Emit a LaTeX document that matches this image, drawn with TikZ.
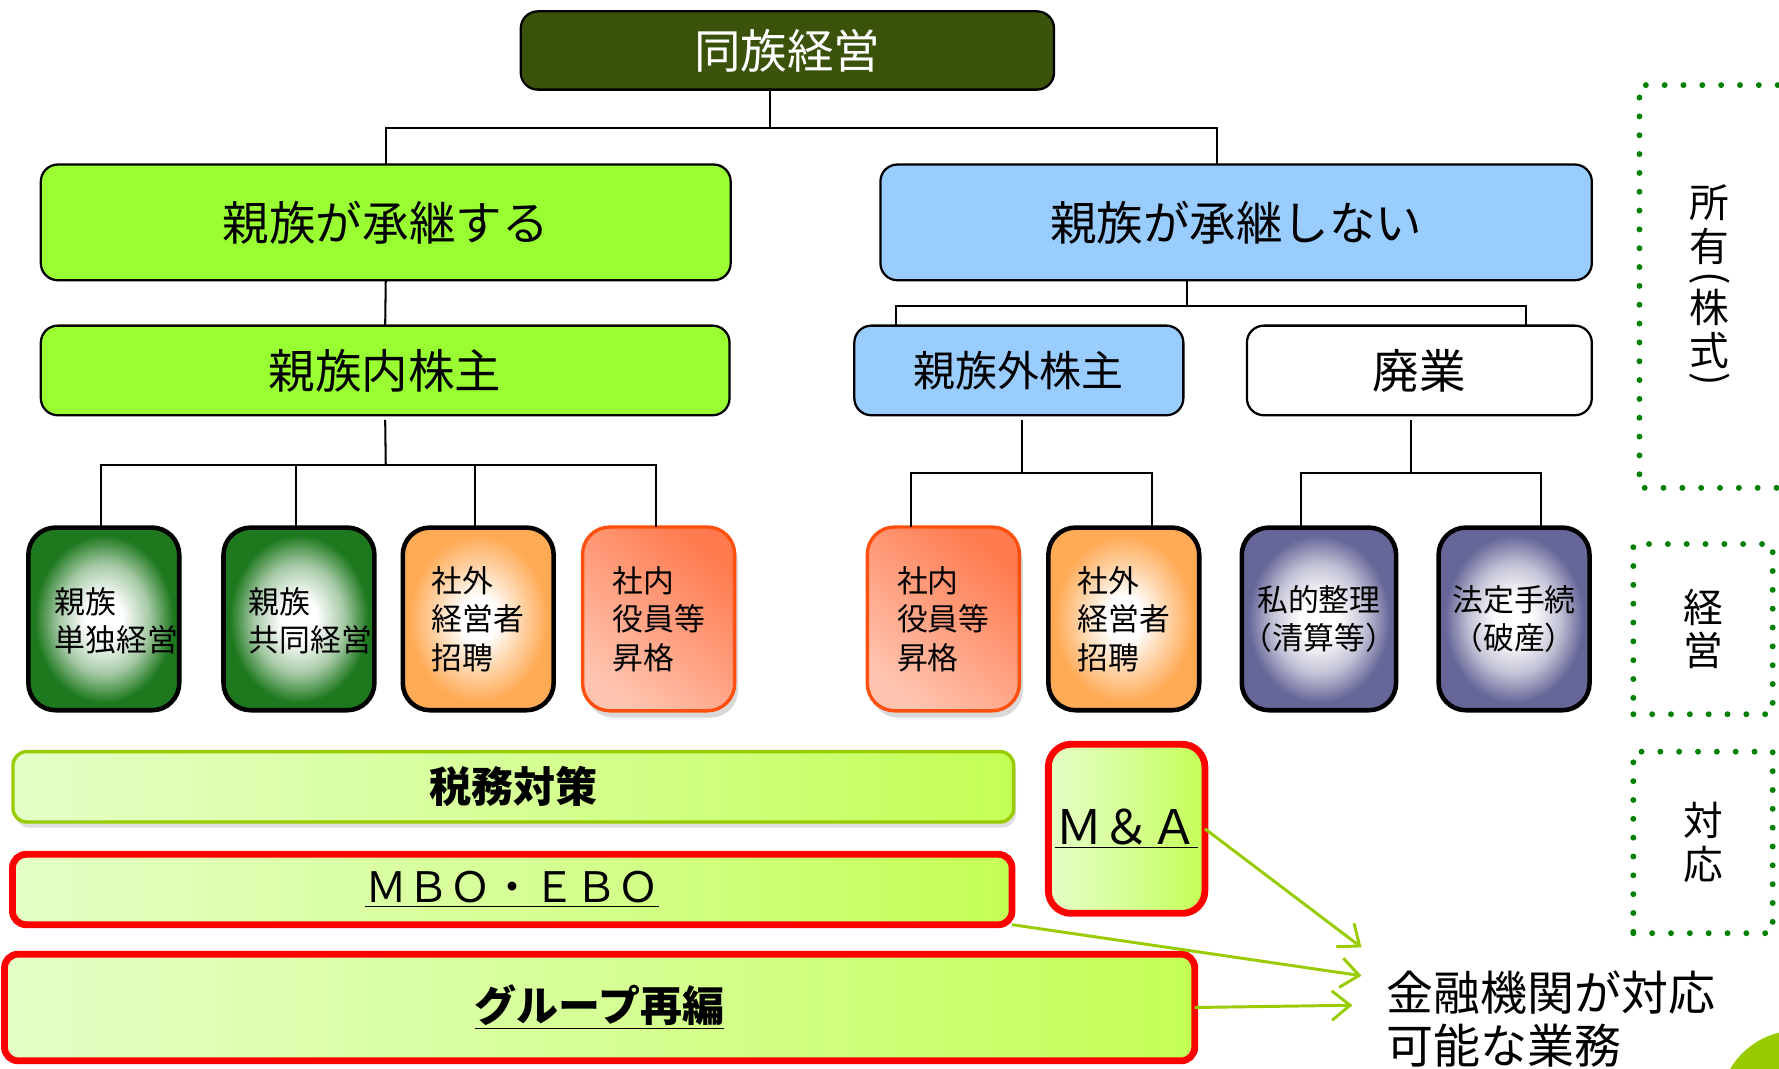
\documentclass[tikz,border=0pt]{standalone}
\usepackage{fontspec}
\setmainfont{Noto Sans CJK JP}
\usetikzlibrary{arrows.meta,shadows}
\definecolor{topfill}{RGB}{58,82,10}
\definecolor{kgreen}{RGB}{153,255,51}
\definecolor{kblue}{RGB}{153,204,255}
\definecolor{lvgreen}{RGB}{30,120,30}
\definecolor{lvorange}{RGB}{255,170,85}
\definecolor{lvpurple}{RGB}{102,102,153}
\definecolor{rdark}{RGB}{255,122,78}
\definecolor{rlight}{RGB}{255,196,176}
\definecolor{rborder}{RGB}{255,80,16}
\definecolor{barL}{RGB}{228,255,198}
\definecolor{barM}{RGB}{214,255,150}
\definecolor{barR}{RGB}{196,255,85}
\definecolor{taxborder}{RGB}{153,204,0}
\definecolor{agreen}{RGB}{153,204,0}
\definecolor{dgreen}{RGB}{0,128,0}
\pgfdeclareradialshading{radgreen}{\pgfpoint{0bp}{0bp}}{color(0bp)=(white); color(6bp)=(white); color(15bp)=(lvgreen!40!white); color(23bp)=(lvgreen); color(50bp)=(lvgreen)}
\pgfdeclareradialshading{radorange}{\pgfpoint{0bp}{0bp}}{color(0bp)=(white); color(6bp)=(white); color(15bp)=(lvorange!55!white); color(23bp)=(lvorange); color(50bp)=(lvorange)}
\pgfdeclareradialshading{radpurple}{\pgfpoint{0bp}{0bp}}{color(0bp)=(white); color(6bp)=(white); color(15bp)=(lvpurple!40!white); color(23bp)=(lvpurple); color(50bp)=(lvpurple)}
\newcommand{\fsBig}{\fontsize{20.5}{24}\selectfont}
\newcommand{\fsMid}{\fontsize{18.5}{22}\selectfont}
\newcommand{\fsLv}{\fontsize{13.6}{17}\selectfont}
\newcommand{\fsSide}{\fontsize{17.5}{19}\selectfont}
\newcommand{\fsInfo}{\fontsize{20.7}{23.5}\selectfont}
\begin{document}
\begin{tikzpicture}[x=0.5pt,y=-0.5pt,
  every node/.style={inner sep=0pt, outer sep=0pt},
  box/.style={draw=black, line width=1pt, rounded corners=7.5pt, align=center},
  lv/.style={draw=black, line width=2pt, rounded corners=12pt, minimum width=66.5pt, minimum height=80.5pt, font=\fsLv, align=left},
  lvr/.style={draw=rborder, line width=1.5pt, rounded corners=12pt, minimum width=67pt, minimum height=81pt, font=\fsLv, align=left,
    shading=axis, top color=rdark, bottom color=rlight, shading angle=-40,
    drop shadow={shadow xshift=1.5pt, shadow yshift=-3pt, opacity=0.3}},
  lvtext/.style={font=\fsLv, align=left},
  bar/.style={rounded corners=6pt, left color=barL, right color=barR, middle color=barM, align=center},
  conn/.style={draw=black, line width=0.9pt},
  garrow/.style={draw=agreen, line width=1.3pt, -{Straight Barb[length=8pt, width=13pt]}},
  dotbox/.style={draw=dgreen, line width=2.6pt, line cap=round, dash pattern=on 0pt off 8.3pt},
  side/.style={font=\fsSide, align=center}]
\useasboundingbox (0,0) rectangle (1568,942);
\clip (0,0) rectangle (1568,942);
% top
\node[box, fill=topfill, text=white, minimum width=235pt, minimum height=34.5pt, font=\fsBig] (T) at (694,44.5) {同族経営};
% level 1
\node[box, fill=kgreen, minimum width=304pt, minimum height=51pt, font=\fsBig] (A1) at (340,196) {親族が承継する};
\node[box, fill=kblue, minimum width=313.5pt, minimum height=51pt, font=\fsBig] (A2) at (1089.5,196) {親族が承継しない};
% level 2
\node[box, fill=kgreen, minimum width=303.5pt, minimum height=39.5pt, font=\fsBig] (B1) at (339.5,326.5) {親族内株主};
\node[box, fill=kblue, minimum width=145pt, minimum height=39.5pt, font=\fsMid] (B2) at (898,326.5) {親族外株主};
\node[box, fill=white, minimum width=152pt, minimum height=39.5pt, font=\fsBig] (B3) at (1251,326.5) {廃業};
% level 3
\node[lv, shading=radgreen] (C1) at (91.5,545.5) {};
\node[lvtext, anchor=west] (C1t) at (48,547) {親族\\単独経営};
\node[lv, shading=radgreen] (C2) at (263.5,545.5) {};
\node[lvtext, anchor=west] (C2t) at (219,547) {親族\\共同経営};
\node[lv, shading=radorange] (C3) at (421.5,545.5) {社外\\経営者\\招聘};
\node[lvr] (C4) at (580.5,545.5) {社内\\役員等\\昇格};
\node[lvr] (C5) at (831.5,545.5) {社内\\役員等\\昇格};
\node[lv, shading=radorange] (C6) at (990.5,545.5) {社外\\経営者\\招聘};
\node[lv, shading=radpurple, align=center] (C7) at (1162.5,545.5) {私的整理\\（清算等）};
\node[lv, shading=radpurple, align=center] (C8) at (1334.5,545.5) {法定手続\\（破産）};
% connectors
\coordinate (j0) at (679,113);
\coordinate (j0l) at (340,113);
\coordinate (j0r) at (1073,113);
\draw[conn] (T.south -| j0) -- (j0);
\draw[conn] (A1.north -| j0l) |- (j0r) -- (A2.north -| j0r);
\draw[conn] (A1.south) -- (B1.north);
\coordinate (j1) at (1046,270);
\coordinate (j1l) at (790,270);
\coordinate (j1r) at (1345,270);
\draw[conn] (A2.south -| j1) -- (j1);
\draw[conn] (B2.north -| j1l) |- (j1r) -- (B3.north -| j1r);
\coordinate (j2) at (340,410);
\coordinate (j2a) at (89,410);
\coordinate (j2b) at (261,410);
\coordinate (j2c) at (419,410);
\coordinate (j2d) at (578,410);
\draw[conn] ([yshift=-2pt]B1.south) -- (j2);
\draw[conn] (C1.north -| j2a) |- (j2d) -- (C4.north -| j2d);
\draw[conn] (j2b) -- (C2.north -| j2b);
\draw[conn] (j2c) -- (C3.north -| j2c);
\coordinate (j3) at (901,417);
\coordinate (j3l) at (803,417);
\coordinate (j3r) at (1015,417);
\draw[conn] ([yshift=-2pt]B2.south -| j3) -- (j3);
\draw[conn] (C5.north -| j3l) |- (j3r) -- (C6.north -| j3r);
\coordinate (j4) at (1244,417);
\coordinate (j4l) at (1147,417);
\coordinate (j4r) at (1358,417);
\draw[conn] ([yshift=-2pt]B3.south -| j4) -- (j4);
\draw[conn] (C7.north -| j4l) |- (j4r) -- (C8.north -| j4r);
% bottom bars
\node[bar, draw=taxborder, line width=1.5pt, minimum width=441pt, minimum height=31pt, font=\fsMid\bfseries,
  drop shadow={shadow xshift=1pt, shadow yshift=-2.5pt, opacity=0.25}] (D1) at (452.5,693.5) {税務対策};
\node[bar, draw=red, line width=3pt, minimum width=440.5pt, minimum height=31pt, font=\fsMid] (D2) at (451.5,784) {\underline{ＭＢＯ・ＥＢＯ}};
\node[bar, draw=red, line width=3pt, minimum width=524.5pt, minimum height=47pt, font=\fsMid\bfseries] (D3) at (528.5,888) {\underline{グループ再編}};
\node[bar, draw=red, line width=3pt, rounded corners=10pt, minimum width=69pt, minimum height=74.5pt, font=\fontsize{21}{24}\selectfont] (D4) at (993,730.5) {\underline{Ｍ＆Ａ}};
% info text and arrows
\node[anchor=west, align=left, font=\fsInfo] (E) at (1222,898) {金融機関が対応\\可能な業務};
\coordinate (e1) at (1200,835);
\coordinate (e2) at (1200,860);
\coordinate (e3) at (1192,886);
\draw[garrow] (D4.east) -- (e1);
\draw[garrow] (D2.south east) -- (e2);
\draw[garrow] (D3.east) -- (e3);
% side dotted boxes
\draw[dotbox] (1600,75) -- (1445,75) -- (1445,430) -- (1600,430);
\node[side] (F1a) at (1507,198) {所\\有};
\node[side, rotate=-90] (F1p) at (1507,245) {(};
\node[side] (F1b) at (1507,290) {株\\式};
\node[side, rotate=-90] (F1q) at (1507,334) {)};
\node[dotbox, side, minimum width=61.4pt, minimum height=75pt] (F2) at (1501,554.5) {経\\営};
\node[dotbox, side, minimum width=61.4pt, minimum height=80pt] (F3) at (1501,742.5) {対\\応};
% corner circle
\node[circle, fill=agreen, minimum size=70pt] (G) at (1585,978) {};
\end{tikzpicture}
\end{document}
